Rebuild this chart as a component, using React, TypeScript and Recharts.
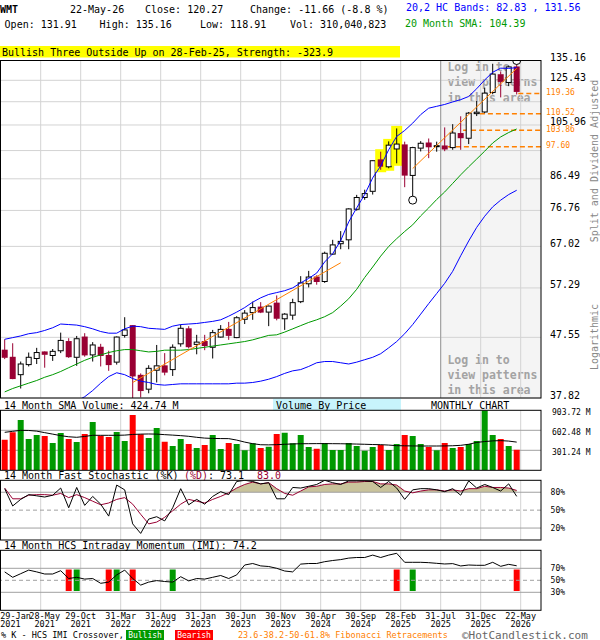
import React from 'react';
import {
  ComposedChart, Bar, Line, Area, XAxis, YAxis, ReferenceArea, ReferenceLine, Scatter, Cell,
} from 'recharts';

const FONT = '"DejaVu Sans Mono", "Liberation Mono", monospace';
const MAROON = '#990033';
const UP_VOL = '#009900';
const DN_VOL = '#FF0000';
const GRID = '#D3D3D3';

// ---------- categories ----------
const MONTHS = [
  'Jan-21','Feb-21','Mar-21','Apr-21','May-21','Jun-21','Jul-21','Aug-21','Sep-21','Oct-21','Nov-21','Dec-21',
  'Jan-22','Feb-22','Mar-22','Apr-22','May-22','Jun-22','Jul-22','Aug-22','Sep-22','Oct-22','Nov-22','Dec-22',
  'Jan-23','Feb-23','Mar-23','Apr-23','May-23','Jun-23','Jul-23','Aug-23','Sep-23','Oct-23','Nov-23','Dec-23',
  'Jan-24','Feb-24','Mar-24','Apr-24','May-24','Jun-24','Jul-24','Aug-24','Sep-24','Oct-24','Nov-24','Dec-24',
  'Jan-25','Feb-25','Mar-25','Apr-25','May-25','Jun-25','Jul-25','Aug-25','Sep-25','Oct-25','Nov-25','Dec-25',
  'Jan-26','Feb-26','Mar-26','Apr-26','May-26',
];

// ---------- price series ----------
const OPEN = [45.3, 44.1, 41.3, 42.9, 43.9, 45.0, 44.4, 45.2, 46.8, 44.1,
  47.6, 44.5, 45.8, 44.4, 43.3, 47.9, 49.7, 41.2, 39.1, 42.0,
  42.7, 42.1, 46.4, 49.1, 46.3, 46.8, 45.8, 47.6, 49.0, 47.5,
  50.9, 52.2, 53.3, 52.3, 54.1, 51.0, 51.7, 54.4, 58.2, 59.7,
  58.7, 65.1, 67.7, 68.7, 77.1, 80.6, 82.5, 92.9, 90.5, 96.8,
  98.3, 87.6, 97.1, 99.0, 97.9, 97.9, 97.3, 102.6, 100.8, 110.6,
  111.3, 119.8, 128.1, 124.4, 131.91];
const HIGH = [47.2, 46.5, 43.4, 44.9, 45.7, 45.1, 45.5, 48.4, 47.4, 47.8,
  48.3, 46.7, 46.4, 45.2, 47.7, 51.3, 49.8, 41.5, 42.8, 46.2,
  44.8, 46.3, 49.9, 49.6, 48.0, 48.0, 48.9, 49.8, 50.4, 51.5,
  52.7, 54.4, 54.3, 53.6, 55.7, 52.1, 55.0, 59.9, 61.1, 60.1,
  65.7, 68.7, 71.0, 77.4, 81.4, 83.0, 92.8, 95.8, 99.6, 104.6,
  99.5, 97.6, 99.7, 100.7, 99.5, 105.0, 106.3, 109.5, 111.3, 116.0,
  122.0, 133.5, 129.7, 132.6, 135.16];
const LOW = [43.8, 40.6, 39.2, 42.6, 43.0, 42.4, 43.5, 44.8, 44.0, 42.7,
  44.2, 43.4, 42.6, 41.9, 42.9, 47.5, 37.7, 37.9, 38.5, 40.1,
  41.2, 41.1, 45.9, 45.6, 44.6, 45.3, 43.9, 47.5, 47.1, 47.4,
  50.0, 50.8, 52.1, 49.6, 50.7, 48.9, 50.8, 54.1, 57.4, 58.0,
  58.4, 64.9, 66.3, 66.3, 76.7, 79.9, 81.5, 89.5, 90.0, 91.7,
  83.8, 79.8, 95.9, 93.5, 95.8, 96.0, 96.5, 96.5, 98.6, 109.6,
  110.8, 119.0, 117.6, 122.7, 118.91];
const CLOSE = [44.1, 40.7, 43.0, 44.1, 44.9, 44.6, 45.1, 47.0, 44.2, 47.3,
  44.5, 46.2, 44.4, 42.9, 47.6, 48.9, 41.1, 38.9, 42.3, 42.7,
  41.7, 45.8, 49.2, 45.9, 46.7, 46.1, 48.4, 49.0, 47.9, 51.2,
  52.1, 53.2, 52.3, 53.5, 51.1, 51.9, 54.2, 58.4, 59.7, 58.7,
  65.3, 67.4, 68.3, 77.2, 80.6, 81.8, 92.6, 90.7, 98.2, 98.6,
  87.7, 97.3, 98.9, 97.6, 98.0, 96.8, 102.8, 101.0, 110.8, 111.2,
  119.5, 128.4, 124.9, 131.93, 120.27];

// Bollinger (20,2) bands and 20 month SMA
const BB_UPPER = [47.2, 47.5, 47.8, 48.2, 48.4, 48.8, 49.3, 50.0, 49.9, 49.8,
  49.5, 49.1, 48.6, 48.3, 48.3, 49.1, 49.6, 49.5, 49.2, 49.1,
  49.0, 49.6, 49.9, 50.0, 50.1, 50.3, 50.5, 50.8, 51.5, 52.3,
  53.2, 54.3, 55.2, 55.9, 56.3, 56.7, 57.3, 58.4, 59.4, 60.6,
  63.2, 65.2, 68.5, 73.5, 77.5, 81.5, 86.8, 90.8, 96.5, 101.5,
  103.8, 106.7, 110.2, 112.9, 113.7, 114.5, 115.6, 116.6, 118.0, 121.5,
  125.6, 129.3, 131.3, 131.2, 131.56];
const BB_LOWER = [35.8, 36.0, 36.2, 36.4, 36.6, 36.8, 37.0, 37.1, 37.2, 37.4,
  38.0, 38.9, 40.0, 41.0, 41.6, 41.3, 40.7, 40.3, 40.1, 39.8,
  39.7, 39.8, 39.9, 39.9, 39.9, 39.9, 39.9, 39.9, 39.9, 40.0,
  40.0, 40.1, 40.3, 40.6, 41.0, 41.5, 41.9, 42.1, 42.6, 43.2,
  43.4, 43.4, 43.2, 43.0, 43.3, 43.7, 44.1, 44.7, 45.7, 46.8,
  48.2, 49.9, 51.9, 54.0, 56.1, 58.3, 61.0, 64.7, 68.4, 72.0,
  75.1, 77.8, 79.8, 81.5, 82.83];
const SMA20 = [38.7, 39.2, 39.6, 40.0, 40.4, 40.9, 41.3, 41.8, 42.4, 43.0,
  43.6, 44.1, 44.5, 44.9, 45.2, 45.4, 45.4, 45.2, 45.0, 45.1,
  45.3, 45.3, 45.3, 45.4, 45.6, 45.8, 46.0, 46.2, 46.4, 46.6,
  46.8, 47.1, 47.5, 47.9, 48.0, 48.5, 49.1, 49.7, 50.3, 50.8,
  51.4, 52.2, 53.5, 55.0, 57.0, 59.6, 62.0, 64.6, 67.0, 69.0,
  70.9, 72.7, 75.2, 77.5, 80.0, 82.3, 85.0, 87.8, 90.5, 93.2,
  96.0, 99.0, 101.3, 103.0, 104.39];

// trend lines (month index, price)
const TREND1_MONTHS = [16, 42];
const TREND1_PRICES = [40.1, 63.0];
const TREND2_MONTHS = [51, 64];
const TREND2_PRICES = [89.9, 131.2];

// pattern highlight + pivots
const HIGHLIGHT = [47, 48, 49];
const PIVOT_LOWS = [51];
const PIVOT_HIGHS = [64];

// Fibonacci retracements
const FIB_LEVELS = [119.36, 110.52, 103.86, 97.60];
const FIB_FROM = [64.2, 59.4, 57.3, 55.4];

// Volume by price (bands between the price ticks, bottom to top), millions of shares
const VBP = [7840, 4420, 1120, 420, 720, 860, 2300, 580, 1180, 620];
const VBP_MAX = 10820;

// ---------- volume ----------
const VOLUME = [461, 572, 757, 471, 532, 516, 411, 562, 471, 426,
  547, 727, 522, 501, 577, 441, 833, 542, 486, 637,
  431, 366, 471, 396, 336, 381, 532, 321, 411, 396,
  301, 406, 336, 356, 547, 567, 406, 532, 351, 326,
  411, 306, 306, 411, 366, 296, 351, 381, 306, 396,
  532, 516, 396, 351, 301, 411, 336, 351, 396, 441,
  903, 532, 471, 366, 310];
const VOL_SMA = [572, 587, 602, 600, 590, 567, 545, 522, 505, 497,
  510, 527, 527, 527, 527, 530, 540, 545, 547, 545,
  537, 530, 522, 512, 497, 485, 480, 478, 477, 455,
  425, 401, 385, 383, 386, 392, 397, 400, 401, 402,
  402, 401, 400, 398, 395, 392, 388, 386, 380, 371,
  369, 367, 366, 366, 366, 367, 370, 376, 392, 420,
  433, 443, 447, 440, 424.74];

// ---------- stochastic ----------
const STOCH_K = [86, 57, 68, 76, 74, 72, 75, 87, 54, 88,
  58, 73, 60, 40, 92, 84, 27, 11, 35, 39,
  32, 54, 86, 59, 68, 60, 73, 81, 76, 98,
  100, 98, 94, 96, 69, 69, 88, 87, 90, 93,
  100, 96, 93, 99, 99, 99, 98, 88, 98, 87,
  68, 84, 86, 86, 84, 81, 86, 75, 99, 87,
  93, 88, 82, 94, 73.1];
const STOCH_D = [87, 69, 69, 75, 76, 76, 75, 78, 71, 76,
  71, 65, 59, 62, 68, 71, 60, 43, 27, 30,
  38, 49, 60, 68, 65, 62, 68, 73, 79, 87,
  93, 97, 94, 96, 86, 78, 75, 82, 89, 90,
  93, 94, 94, 97, 97, 98, 98, 94, 94, 92,
  82, 79, 82, 84, 84, 82, 84, 82, 86, 86,
  90, 88, 88, 87, 83.0];
const STOCH_SHADE_FROM = 29;

// ---------- IMI ----------
const IMI = [64, 55, 61, 67, 64, 60.5, 60.5, 66, 53, 55,
  52, 53, 45, 47, 59, 67, 53, 42, 47, 49.5,
  48, 47, 56, 49, 53, 52, 55, 58, 53, 59,
  75.5, 78, 74, 73, 70, 65.5, 64, 77, 78, 78,
  81, 83, 84.5, 87, 88, 88, 92, 88, 92, 95,
  80, 80, 80, 79.4, 78.3, 77.2, 77.8, 73.9, 75.5, 75,
  75, 80, 73.3, 76.6, 74.2];
const IMI_BULL = [9, 14, 21, 51];
const IMI_BEAR = [8, 13, 16, 49, 64];
const IMI_BAR_RANGE = [32, 68];

// ---------- axes ----------
const Y_TICKS = [37.82, 47.55, 57.29, 67.02, 76.76, 86.49, 96.22, 105.96, 115.69, 125.43, 135.16];
const Y_TICK_LABELS = ['37.82', '47.55', '57.29', '67.02', '76.76', '86.49', '', '105.96', '', '125.43', '135.16'];
const VOL_TICKS = [301.24, 602.48, 903.72];
const X_MIN = -0.5875;
const X_MAX = 67.0375;
const GRID_AT = [4.5, 9.5, 14.5, 19.5, 24.5, 29.5, 34.5, 39.5, 44.5, 49.5, 54.5, 59.5, 64.5];
const LOGIN_FROM = 54.5;
const X_LABEL_MONTHS = [0, 4, 9, 14, 19, 24, 29, 34, 39, 44, 49, 54, 59, 64];
const X_LABELS = [
  ['29-Jan', '2021'], ['28-May', '2021'], ['29-Oct', '2021'], ['31-Mar', '2022'], ['31-Aug', '2022'],
  ['31-Jan', '2023'], ['30-Jun', '2023'], ['30-Nov', '2023'], ['30-Apr', '2024'], ['30-Sep', '2024'],
  ['28-Feb', '2025'], ['31-Jul', '2025'], ['31-Dec', '2025'], ['22-May', '2026'],
];

// ---------- tables ----------
const mainData = MONTHS.map((m, i) => {
  const t1 = TREND1_MONTHS.indexOf(i);
  const t2 = TREND2_MONTHS.indexOf(i);
  return {
    i, m, o: OPEN[i], h: HIGH[i], l: LOW[i], c: CLOSE[i],
    range: [LOW[i], HIGH[i]],
    hl: HIGHLIGHT.includes(i),
    bbU: BB_UPPER[i], bbL: BB_LOWER[i], sma: SMA20[i],
    t1: t1 >= 0 ? TREND1_PRICES[t1] : null,
    t2: t2 >= 0 ? TREND2_PRICES[t2] : null,
  };
});
const pivotData = [
  ...PIVOT_LOWS.map((i) => ({ i, p: LOW[i] })),
  ...PIVOT_HIGHS.map((i) => ({ i, p: HIGH[i] })),
];
const volData = MONTHS.map((m, i) => ({ i, m, v: VOLUME[i], sma: VOL_SMA[i], up: CLOSE[i] >= OPEN[i] }));
const stochData = MONTHS.map((m, i) => ({
  i, m, k: STOCH_K[i], d: STOCH_D[i],
  sf: i >= STOCH_SHADE_FROM ? Math.max(STOCH_D[i], 80) : 80,
}));
const imiData = MONTHS.map((m, i) => ({
  i, m, imi: IMI[i],
  x: IMI_BULL.includes(i) || IMI_BEAR.includes(i) ? IMI_BAR_RANGE : null,
  bull: IMI_BULL.includes(i),
}));

// ---------- shapes ----------
const Candle = (props: any) => {
  const { x, y, width, height, payload } = props;
  if (!payload || y == null || height == null) return null;
  const cx = x + width / 2;
  const lh = Math.log(payload.h);
  const ll = Math.log(payload.l);
  const span = lh - ll || 1e-9;
  const py = (v: number) => y + (height * (lh - Math.log(v))) / span;
  const up = payload.c >= payload.o;
  const top = py(Math.max(payload.o, payload.c));
  const bot = py(Math.min(payload.o, payload.c));
  const col = up ? '#000' : MAROON;
  return (
    <g>
      {payload.hl && <rect x={cx - 5.5} y={y - 2.5} width={11} height={height + 5} fill="#FFFF00" />}
      <line x1={cx} x2={cx} y1={y} y2={top} stroke={col} strokeWidth={1} />
      <line x1={cx} x2={cx} y1={bot} y2={y + height} stroke={col} strokeWidth={1} />
      {up ? (
        <rect x={cx - 2.5} y={top} width={5} height={Math.max(bot - top, 1)} fill="#fff" stroke="#000" strokeWidth={1} />
      ) : (
        <rect x={cx - 3} y={top - 0.5} width={6} height={Math.max(bot - top + 1, 1.5)} fill={MAROON} />
      )}
    </g>
  );
};

const Pivot = (props: any) => (
  <circle cx={props.cx} cy={props.cy} r={4} fill="#fff" stroke="#000" strokeWidth={1} />
);

const MainTick = (props: any) => {
  const { x, y, payload } = props;
  const idx = Y_TICKS.indexOf(payload.value);
  const label = Y_TICK_LABELS[idx];
  if (!label) return null;
  return (
    <text x={x + 1} y={y - 3} dy="0.35em" fontFamily={FONT} fontSize={10} fill="#000">{label}</text>
  );
};
const VolTick = (props: any) => (
  <text x={props.x + 3} y={props.y + 2} dy="0.35em" fontFamily={FONT} fontSize={8} fill="#000">
    {props.payload.value.toFixed(2)} M
  </text>
);
const PctTick = (props: any) => (
  <text x={props.x + 1.6} y={props.y} dy="0.35em" fontFamily={FONT} fontSize={8} fill="#000">
    {props.payload.value}%
  </text>
);

// x labels sit under the IMI panel (chart-local baseline positions)
const X_LABEL_Y1 = 78.8;
const X_LABEL_Y2 = 87.2;
const XTick = (props: any) => {
  const { x, payload } = props;
  const idx = X_LABEL_MONTHS.indexOf(Math.round(payload.value - 0.5));
  const lbl = X_LABELS[idx];
  if (!lbl) return null;
  let xx = x;
  let anchor: any = 'middle';
  if (idx === 0) { xx = x - 8.5; anchor = 'start'; }
  if (idx === 1) { xx = x + 4; }
  return (
    <text fontFamily={FONT} fontSize={8.5} fill="#000" textAnchor={anchor}>
      <tspan x={xx} y={X_LABEL_Y1}>{lbl[0]}</tspan>
      <tspan x={xx} y={X_LABEL_Y2}>{lbl[1]}</tspan>
    </text>
  );
};
const FibLabel = (props: any) => {
  const vb = props.viewBox || {};
  return (
    <text x={(vb.x || 0) + (vb.width || 0) + 5} y={(vb.y || 0) - 1.5} dy="0.35em" fontFamily={FONT} fontSize={8} fill="#FF8000">
      {props.text}
    </text>
  );
};
const LoginShape = (props: any) => {
  const { x, y, width, height } = props;
  if (x == null || y == null) return null;
  const x0 = x + 6.7;
  const lines = ['Log in to', 'view patterns', 'in this area'];
  const st = { fontFamily: FONT, fontSize: 11.5, fontWeight: 'bold' as const, fill: '#A3A3A3' };
  return (
    <g>
      <rect x={x} y={y} width={width} height={height} fill="#F4F4F4" />
      {lines.map((t, k) => <text key={'a' + k} x={x0} y={y + 10.5 + 15.3 * k} {...st}>{t}</text>)}
      {lines.map((t, k) => <text key={'b' + k} x={x0} y={y + height - 34 + 15 * k} {...st}>{t}</text>)}
    </g>
  );
};

const vGrid = (keyp: string) =>
  GRID_AT.map((g) => (
    <ReferenceLine key={keyp + g} x={g} stroke={GRID} strokeWidth={1} ifOverflow="hidden" zIndex={-250} />
  ));

const xAxisMain = (
  <XAxis dataKey="i" type="number" domain={[X_MIN, X_MAX]} allowDataOverflow hide ticks={GRID_AT} />
);

export default function App() {
  return (
    <div style={{ position: 'absolute', left: 0, top: 0, width: 600, height: 640, background: '#fff', overflow: 'hidden' }}>
      {/* MAIN PRICE PANEL */}
      <div style={{ position: 'absolute', left: 0, top: 0 }}>
        <ComposedChart width={600} height={400} data={mainData} margin={{ top: 60.5, right: 0, bottom: 2, left: 0 }}>
          {xAxisMain}
          <XAxis xAxisId="vbp" type="number" domain={[0, VBP_MAX]} allowDataOverflow hide />
          <YAxis
            orientation="right" width={59} type="number" scale="log" domain={[37.82, 135.16]}
            allowDataOverflow ticks={Y_TICKS} interval={0} tick={<MainTick />} tickLine={false} axisLine={false}
          />
          <ReferenceArea x1={LOGIN_FROM} x2={X_MAX} fill="#F4F4F4" fillOpacity={1} stroke="none" zIndex={-300} shape={<LoginShape />} />
          {vGrid('m')}
          {VBP.map((v, k) => (
            <ReferenceArea
              key={'vbp' + k} xAxisId="vbp" x1={0} x2={v} y1={Y_TICKS[k]} y2={Y_TICKS[k + 1]}
              fill="#C8F4FC" fillOpacity={1} stroke="none" zIndex={-200}
            />
          ))}
          {Y_TICKS.map((t) => (
            <ReferenceLine key={'h' + t} y={t} stroke={GRID} strokeWidth={1} zIndex={-150} />
          ))}
          <ReferenceLine x={LOGIN_FROM} stroke="#999999" strokeWidth={1} zIndex={-140} />
          {FIB_LEVELS.map((lv, k) => (
            <ReferenceLine
              key={'fib' + k}
              segment={[{ x: FIB_FROM[k], y: lv }, { x: X_MAX, y: lv }]}
              stroke="#FF8000" strokeWidth={1.5} strokeDasharray="5 3" zIndex={-130}
              label={<FibLabel text={lv.toFixed(2)} />}
            />
          ))}
          <Bar dataKey="range" barSize={6} shape={<Candle />} isAnimationActive={false} />
          <Line dataKey="bbL" stroke="#0000FF" strokeWidth={1} dot={false} activeDot={false} isAnimationActive={false} />
          <Line dataKey="bbU" stroke="#0000FF" strokeWidth={1} dot={false} activeDot={false} isAnimationActive={false} />
          <Line dataKey="sma" stroke="#009900" strokeWidth={1} dot={false} activeDot={false} isAnimationActive={false} />
          <Line dataKey="t1" stroke="#FF8000" strokeWidth={1} dot={false} activeDot={false} connectNulls isAnimationActive={false} />
          <Line dataKey="t2" stroke="#FF8000" strokeWidth={1} dot={false} activeDot={false} connectNulls isAnimationActive={false} />
          <Scatter data={pivotData} dataKey="p" shape={<Pivot />} isAnimationActive={false} />
        </ComposedChart>
      </div>

      {/* VOLUME PANEL */}
      <div style={{ position: 'absolute', left: 0, top: 400 }}>
        <ComposedChart width={600} height={72} data={volData} margin={{ top: 10.3, right: 0, bottom: 1.7, left: 0 }}>
          {xAxisMain}
          <YAxis
            orientation="right" width={59} type="number" domain={[0, 903.72]} allowDataOverflow
            ticks={VOL_TICKS} interval={0} tick={<VolTick />} tickLine={false} axisLine={false}
          />
          {vGrid('v')}
          {VOL_TICKS.slice(0, 2).map((t) => (
            <ReferenceLine key={'vh' + t} y={t} stroke="#A0A0A0" strokeWidth={1} zIndex={-150} />
          ))}
          <Bar dataKey="v" barSize={6} isAnimationActive={false}>
            {volData.map((d, k) => <Cell key={k} fill={d.up ? UP_VOL : DN_VOL} />)}
          </Bar>
          <Line dataKey="sma" stroke="#000" strokeWidth={1} dot={false} activeDot={false} isAnimationActive={false} />
        </ComposedChart>
      </div>

      {/* STOCHASTIC PANEL */}
      <div style={{ position: 'absolute', left: 0, top: 470 }}>
        <ComposedChart width={600} height={72} data={stochData} margin={{ top: 10.3, right: 0, bottom: 2, left: 0 }}>
          {xAxisMain}
          <YAxis
            orientation="right" width={59} type="number" domain={[0, 100]} allowDataOverflow
            ticks={[20, 50, 80]} interval={0} tick={<PctTick />} tickLine={false} axisLine={false}
          />
          {vGrid('s')}
          <Area dataKey="sf" baseValue={80} type="linear" fill="#C9C39B" fillOpacity={1} stroke="none" isAnimationActive={false} />
          <ReferenceLine y={80} stroke="#A0A0A0" strokeWidth={1} />
          <ReferenceLine y={20} stroke="#A0A0A0" strokeWidth={1} />
          <ReferenceLine y={50} stroke="#A0A0A0" strokeWidth={1} strokeDasharray="4 3" />
          <Line dataKey="d" stroke={MAROON} strokeWidth={1} dot={false} activeDot={false} isAnimationActive={false} />
          <Line dataKey="k" stroke="#000" strokeWidth={1} dot={false} activeDot={false} isAnimationActive={false} />
        </ComposedChart>
      </div>

      {/* IMI PANEL (carries the date axis) */}
      <div style={{ position: 'absolute', left: 0, top: 540 }}>
        <ComposedChart width={600} height={100} data={imiData} margin={{ top: 10.3, right: 0, bottom: 9.7, left: 0 }}>
          <XAxis
            dataKey="i" type="number" domain={[X_MIN, X_MAX]} allowDataOverflow height={20}
            ticks={X_LABEL_MONTHS.map((m) => m + 0.5)} interval={0} tick={<XTick />}
            tickLine={false} axisLine={false}
          />
          <YAxis
            orientation="right" width={59} type="number" domain={[0, 100]} allowDataOverflow
            ticks={[30, 50, 70]} interval={0} tick={<PctTick />} tickLine={false} axisLine={false}
          />
          {vGrid('i')}
          <ReferenceLine y={70} stroke="#A0A0A0" strokeWidth={1} />
          <ReferenceLine y={30} stroke="#A0A0A0" strokeWidth={1} />
          <ReferenceLine y={50} stroke="#A0A0A0" strokeWidth={1} strokeDasharray="4 3" />
          <Bar dataKey="x" barSize={6} isAnimationActive={false}>
            {imiData.map((d, k) => <Cell key={k} fill={d.bull ? UP_VOL : DN_VOL} />)}
          </Bar>
          <Line dataKey="imi" stroke="#000" strokeWidth={1} dot={false} activeDot={false} isAnimationActive={false} />
        </ComposedChart>
      </div>

      {/* TEXT + FRAMES */}
      <svg width={600} height={640} style={{ position: 'absolute', left: 0, top: 0, pointerEvents: 'none' }}>
        <g fontFamily={FONT} fontSize={10} fill="#000">
          <text x={0} y={13} fontWeight="bold">WMT</text>
          <text x={70} y={13}>22-May-26</text>
          <text x={145} y={13}>{`Close: ${CLOSE[64].toFixed(2)}`}</text>
          <text x={250} y={13}>Change: -11.66 (-8.8 %)</text>
          <text x={406} y={11} fill="#0000FF">{`20,2 HC Bands: ${BB_LOWER[64].toFixed(2)} , ${BB_UPPER[64].toFixed(2)}`}</text>
          <text x={4.6} y={28}>{`Open: ${OPEN[64].toFixed(2)}`}</text>
          <text x={99.6} y={28}>{`High: ${HIGH[64].toFixed(2)}`}</text>
          <text x={200} y={28}>{`Low: ${LOW[64].toFixed(2)}`}</text>
          <text x={290} y={28}>Vol: 310,040,823</text>
          <text x={405} y={26.5} fill="#009900">{`20 Month SMA: ${SMA20[64].toFixed(2)}`}</text>
          <rect x={0} y={46} width={400} height={11.5} fill="#FFFF00" />
          <text x={2} y={55.5}>Bullish Three Outside Up on 28-Feb-25, Strength: -323.9</text>

          <rect x={273} y={398.5} width={128} height={11.8} fill="#C8F4FC" />
          <text x={4} y={408.5}>{`14 Month SMA Volume: ${VOL_SMA[64].toFixed(2)} M`}</text>
          <text x={276} y={408.5}>Volume By Price</text>
          <text x={431} y={408.5}>MONTHLY CHART</text>

          <text x={4} y={478.5}>14 Month Fast Stochastic (%K)</text>
          <text x={184} y={478.5} fill={MAROON}>(%D)</text>
          <text x={208} y={478.5}>{`: ${STOCH_K[64].toFixed(1)}`}</text>
          <text x={257} y={478.5} fill={MAROON}>{STOCH_D[64].toFixed(1)}</text>
          <text x={4} y={548.5}>{`14 Month HCS Intraday Momentum (IMI): ${IMI[64].toFixed(1)}`}</text>

          <text transform="translate(594,161) rotate(-90)" textAnchor="middle" dominantBaseline="central" fill="#888888">Split and Dividend Adjusted</text>
          <text transform="translate(594,337) rotate(-90)" textAnchor="middle" dominantBaseline="central" fill="#888888">Logarithmic</text>

          <g fontSize={8.5}>
            <text x={1} y={638}>% K - HCS IMI Crossover,</text>
            <rect x={126} y={630} width={38} height={10} fill="#009900" />
            <text x={145} y={638} textAnchor="middle" fill="#fff" fontSize={8}>Bullish</text>
            <rect x={175} y={630} width={38} height={10} fill="#FF0000" />
            <text x={194} y={638} textAnchor="middle" fill="#fff" fontSize={8}>Bearish</text>
            <text x={238} y={638} fill="#FF8000">23.6-38.2-50-61.8% Fibonacci Retracements</text>
          </g>
          <text x={462} y={639.3} fontSize={11} fill="#666666">©HotCandlestick.com</text>
        </g>
        <g fill="none" stroke="#000" strokeWidth={1}>
          <rect x={0.5} y={60.5} width={540.5} height={337.5} />
          <rect x={0.5} y={410.3} width={540.5} height={60} />
          <rect x={0.5} y={480.3} width={540.5} height={59.7} />
          <rect x={0.5} y={550.3} width={540.5} height={60} />
        </g>
      </svg>
    </div>
  );
}
